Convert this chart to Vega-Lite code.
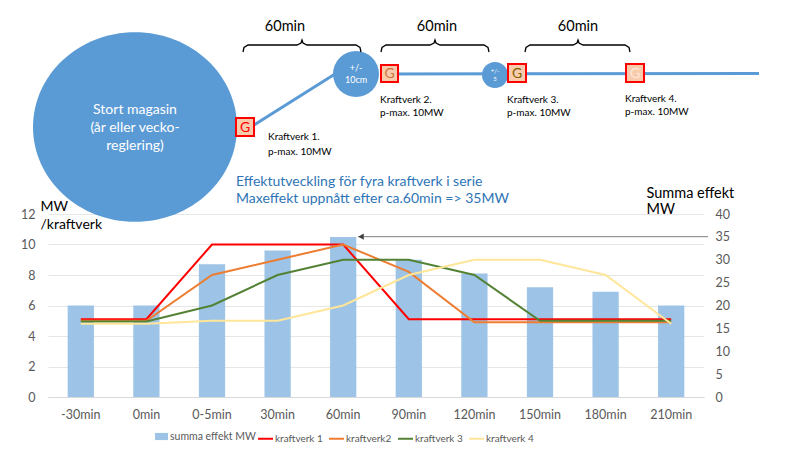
{
  "$schema": "https://vega.github.io/schema/vega-lite/v6.json",
  "width": 656,
  "height": 183,
  "autosize": "none",
  "padding": {"left": 48, "top": 214, "right": 96, "bottom": 53},
  "background": "white",
  "config": {"view": {"stroke": null}, "font": "Lato"},
  "datasets": {
    "bars": [
      {"t": "-30min", "summa": 20},
      {"t": "0min", "summa": 20},
      {"t": "0-5min", "summa": 29},
      {"t": "30min", "summa": 32},
      {"t": "60min", "summa": 35},
      {"t": "90min", "summa": 30},
      {"t": "120min", "summa": 27},
      {"t": "150min", "summa": 24},
      {"t": "180min", "summa": 23},
      {"t": "210min", "summa": 20}
    ],
    "lines": [
      {"t": "-30min", "serie": "kraftverk 1", "mw": 5.1},
      {"t": "0min", "serie": "kraftverk 1", "mw": 5.1},
      {"t": "0-5min", "serie": "kraftverk 1", "mw": 10},
      {"t": "30min", "serie": "kraftverk 1", "mw": 10},
      {"t": "60min", "serie": "kraftverk 1", "mw": 10},
      {"t": "90min", "serie": "kraftverk 1", "mw": 5.1},
      {"t": "120min", "serie": "kraftverk 1", "mw": 5.1},
      {"t": "150min", "serie": "kraftverk 1", "mw": 5.1},
      {"t": "180min", "serie": "kraftverk 1", "mw": 5.1},
      {"t": "210min", "serie": "kraftverk 1", "mw": 5.1},
      {"t": "-30min", "serie": "kraftverk2", "mw": 5.0},
      {"t": "0min", "serie": "kraftverk2", "mw": 5.0},
      {"t": "0-5min", "serie": "kraftverk2", "mw": 8},
      {"t": "30min", "serie": "kraftverk2", "mw": 9},
      {"t": "60min", "serie": "kraftverk2", "mw": 10},
      {"t": "90min", "serie": "kraftverk2", "mw": 8.2},
      {"t": "120min", "serie": "kraftverk2", "mw": 4.9},
      {"t": "150min", "serie": "kraftverk2", "mw": 4.9},
      {"t": "180min", "serie": "kraftverk2", "mw": 4.9},
      {"t": "210min", "serie": "kraftverk2", "mw": 4.9},
      {"t": "-30min", "serie": "kraftverk 3", "mw": 4.95},
      {"t": "0min", "serie": "kraftverk 3", "mw": 4.95},
      {"t": "0-5min", "serie": "kraftverk 3", "mw": 6},
      {"t": "30min", "serie": "kraftverk 3", "mw": 8},
      {"t": "60min", "serie": "kraftverk 3", "mw": 9},
      {"t": "90min", "serie": "kraftverk 3", "mw": 9},
      {"t": "120min", "serie": "kraftverk 3", "mw": 8},
      {"t": "150min", "serie": "kraftverk 3", "mw": 5},
      {"t": "180min", "serie": "kraftverk 3", "mw": 5},
      {"t": "210min", "serie": "kraftverk 3", "mw": 5},
      {"t": "-30min", "serie": "kraftverk 4", "mw": 4.8},
      {"t": "0min", "serie": "kraftverk 4", "mw": 4.8},
      {"t": "0-5min", "serie": "kraftverk 4", "mw": 5},
      {"t": "30min", "serie": "kraftverk 4", "mw": 5},
      {"t": "60min", "serie": "kraftverk 4", "mw": 6},
      {"t": "90min", "serie": "kraftverk 4", "mw": 8},
      {"t": "120min", "serie": "kraftverk 4", "mw": 9},
      {"t": "150min", "serie": "kraftverk 4", "mw": 9},
      {"t": "180min", "serie": "kraftverk 4", "mw": 8},
      {"t": "210min", "serie": "kraftverk 4", "mw": 4.8}
    ],
    "pipes": [
      {"seg": "a", "x": 254, "y": 125},
      {"seg": "a", "x": 335, "y": 74},
      {"seg": "b", "x": 380, "y": 74},
      {"seg": "b", "x": 759, "y": 73.5}
    ],
    "braces": [
      {"b": 1, "x": 243, "y": 52}, {"b": 1, "x": 244, "y": 47.5}, {"b": 1, "x": 248, "y": 45}, {"b": 1, "x": 297, "y": 45}, {"b": 1, "x": 301, "y": 43}, {"b": 1, "x": 302, "y": 40}, {"b": 1, "x": 303, "y": 43}, {"b": 1, "x": 307, "y": 45}, {"b": 1, "x": 356, "y": 45}, {"b": 1, "x": 360, "y": 47.5}, {"b": 1, "x": 361, "y": 52},
      {"b": 2, "x": 381, "y": 52}, {"b": 2, "x": 382, "y": 47.5}, {"b": 2, "x": 386, "y": 45}, {"b": 2, "x": 430, "y": 45}, {"b": 2, "x": 434, "y": 43}, {"b": 2, "x": 435, "y": 40}, {"b": 2, "x": 436, "y": 43}, {"b": 2, "x": 440, "y": 45}, {"b": 2, "x": 484, "y": 45}, {"b": 2, "x": 488, "y": 47.5}, {"b": 2, "x": 489, "y": 52},
      {"b": 3, "x": 525, "y": 52}, {"b": 3, "x": 526, "y": 47.5}, {"b": 3, "x": 530, "y": 45}, {"b": 3, "x": 573, "y": 45}, {"b": 3, "x": 577, "y": 43}, {"b": 3, "x": 578, "y": 40}, {"b": 3, "x": 579, "y": 43}, {"b": 3, "x": 583, "y": 45}, {"b": 3, "x": 625, "y": 45}, {"b": 3, "x": 629, "y": 47.5}, {"b": 3, "x": 630, "y": 52}
    ],
    "gboxes": [
      {"x": 236, "x2": 254, "y": 118, "y2": 136},
      {"x": 381, "x2": 398, "y": 65, "y2": 82},
      {"x": 508, "x2": 526, "y": 64, "y2": 82},
      {"x": 626, "x2": 644, "y": 64, "y2": 82}
    ],
    "plantLabels": [
      {"x": 268, "y": 137, "label": "Kraftverk 1."},
      {"x": 268, "y": 152, "label": "p-max. 10MW"},
      {"x": 380, "y": 100, "label": "Kraftverk 2."},
      {"x": 380, "y": 113, "label": "p-max. 10MW"},
      {"x": 507, "y": 100, "label": "Kraftverk 3."},
      {"x": 507, "y": 113, "label": "p-max. 10MW"},
      {"x": 625, "y": 99, "label": "Kraftverk 4."},
      {"x": 625, "y": 112, "label": "p-max. 10MW"}
    ],
    "durations": [
      {"x": 285, "y": 27, "label": "60min"},
      {"x": 437, "y": 27, "label": "60min"},
      {"x": 578, "y": 27, "label": "60min"}
    ]
  },
  "layer": [
    {
      "layer": [
        {
          "data": {"name": "bars"},
          "mark": {"type": "bar"},
          "encoding": {
            "x": {
              "field": "t", "type": "ordinal",
              "sort": ["-30min", "0min", "0-5min", "30min", "60min", "90min", "120min", "150min", "180min", "210min"],
              "scale": {"paddingInner": 0.6, "paddingOuter": 0.3},
              "axis": {"title": null, "labelAngle": 0, "ticks": false, "domain": true, "domainColor": "#D9D9D9", "grid": false, "labelColor": "#595959", "labelFontSize": 12.5, "labelPadding": 11, "labelFont": "Lato"}
            },
            "y": {
              "field": "summa", "type": "quantitative",
              "scale": {"domain": [0, 40], "nice": false},
              "axis": {"orient": "right", "values": [0, 5, 10, 15, 20, 25, 30, 35, 40], "grid": false, "domain": false, "ticks": false, "labelColor": "#595959", "labelFontSize": 12.5, "labelPadding": 11,
                "title": ["Summa effekt", "MW"], "titleAngle": 0, "titleAlign": "left", "titleBaseline": "top", "titleX": -58, "titleY": -28, "titleFontSize": 14.5, "titleFontWeight": "normal", "titleColor": "#000000", "titleLineHeight": 16, "titleFont": "Lato"}
            },
            "fill": {
              "datum": "summa effekt MW", "type": "nominal",
              "scale": {"range": ["#9DC3E6"]},
              "legend": {"orient": "none", "legendX": 107, "legendY": 216, "title": null, "symbolType": "M-1,-0.55H1V0.55H-1Z", "symbolSize": 169, "symbolStrokeWidth": 0, "labelColor": "#595959", "labelFontSize": 10.5, "labelOffset": 2}
            }
          }
        },
        {
          "data": {"name": "lines"},
          "mark": {"type": "line", "strokeWidth": 2},
          "encoding": {
            "x": {"field": "t", "type": "ordinal", "sort": ["-30min", "0min", "0-5min", "30min", "60min", "90min", "120min", "150min", "180min", "210min"]},
            "y": {
              "field": "mw", "type": "quantitative",
              "scale": {"domain": [0, 12], "nice": false},
              "axis": {"orient": "left", "values": [0, 2, 4, 6, 8, 10, 12], "grid": true, "gridColor": "#E6E6E6", "domain": false, "ticks": false, "labelColor": "#595959", "labelFontSize": 12.5, "labelPadding": 13,
                "title": ["MW", "/kraftverk"], "titleAngle": 0, "titleAlign": "left", "titleBaseline": "top", "titleX": -8, "titleY": -15, "titleFontSize": 14, "titleFontWeight": "normal", "titleColor": "#000000", "titleLineHeight": 18, "titleFont": "Lato"}
            },
            "stroke": {
              "field": "serie", "type": "nominal",
              "scale": {"domain": ["kraftverk 1", "kraftverk2", "kraftverk 3", "kraftverk 4"], "range": ["#FF0000", "#ED7D31", "#548235", "#FFE699"]},
              "legend": {"orient": "none", "legendX": 209, "legendY": 216, "direction": "horizontal", "title": null, "symbolType": "stroke", "symbolSize": 225, "symbolStrokeWidth": 2, "labelColor": "#595959", "labelFontSize": 10, "labelOffset": 1, "columnPadding": 2}
            }
          }
        }
      ],
      "resolve": {"scale": {"y": "independent"}}
    },
    {
      "encoding": {
        "x": {"field": "x", "type": "quantitative", "scale": {"domain": [0, 800], "range": [-48, 752], "nice": false, "zero": false}, "axis": null},
        "y": {"field": "y", "type": "quantitative", "scale": {"domain": [0, 450], "range": [-214, 236], "nice": false, "zero": false}, "axis": null}
      },
      "layer": [
        {
          "data": {"values": [{"x": 358, "y": 236.7}, {"x": 708, "y": 236.7}]},
          "mark": {"type": "line", "color": "#7F7F7F", "strokeWidth": 1}
        },
        {
          "data": {"values": [{"x": 361, "y": 236.7}]},
          "mark": {"type": "point", "shape": "triangle-left", "size": 40, "filled": true, "color": "#404040", "opacity": 1}
        },
        {
          "data": {"name": "pipes"},
          "mark": {"type": "line", "color": "#5B9BD5", "strokeWidth": 3},
          "encoding": {"detail": {"field": "seg"}}
        },
        {
          "data": {"values": [{"x": 135, "y": 127}]},
          "mark": {"type": "point", "shape": "M-1,0A1,0.93,0,1,0,1,0A1,0.93,0,1,0,-1,0Z", "size": 41616, "filled": true, "color": "#5B9BD5", "opacity": 1}
        },
        {
          "data": {"values": [{"x": 356, "y": 74}]},
          "mark": {"type": "point", "shape": "circle", "size": 2116, "filled": true, "color": "#5B9BD5", "opacity": 1}
        },
        {
          "data": {"values": [{"x": 495, "y": 75}]},
          "mark": {"type": "point", "shape": "circle", "size": 676, "filled": true, "color": "#5B9BD5", "opacity": 1}
        },
        {
          "data": {"name": "gboxes"},
          "mark": {"type": "rect", "fill": "#F8CBAD", "stroke": "#FF0000", "strokeWidth": 2},
          "encoding": {"x2": {"field": "x2"}, "y2": {"field": "y2"}}
        },
        {
          "data": {"values": [{"x": 245, "y": 127.5, "label": "G"}]},
          "mark": {"type": "text", "color": "#FF0000", "fontSize": 14, "align": "center", "baseline": "middle", "font": "Lato"},
          "encoding": {"text": {"field": "label"}}
        },
        {
          "data": {"values": [{"x": 389.5, "y": 74, "label": "G"}]},
          "mark": {"type": "text", "color": "#D0733A", "fontSize": 14, "align": "center", "baseline": "middle", "font": "Lato"},
          "encoding": {"text": {"field": "label"}}
        },
        {
          "data": {"values": [{"x": 517, "y": 73.5, "label": "G"}]},
          "mark": {"type": "text", "color": "#7F6000", "fontSize": 14, "align": "center", "baseline": "middle", "font": "Lato"},
          "encoding": {"text": {"field": "label"}}
        },
        {
          "data": {"values": [{"x": 635, "y": 73.5, "label": "G"}]},
          "mark": {"type": "text", "color": "#FCE8DA", "fontSize": 14, "align": "center", "baseline": "middle", "font": "Lato"},
          "encoding": {"text": {"field": "label"}}
        },
        {
          "data": {"values": [{"x": 135, "y": 110, "label": "Stort magasin"}, {"x": 135, "y": 128, "label": "(år eller vecko-"}, {"x": 135, "y": 146, "label": "reglering)"}]},
          "mark": {"type": "text", "color": "#FFFFFF", "fontSize": 14, "align": "center", "baseline": "middle", "font": "Lato"},
          "encoding": {"text": {"field": "label"}}
        },
        {
          "data": {"values": [{"x": 356, "y": 68, "label": "+/-"}, {"x": 356, "y": 80, "label": "10cm"}]},
          "mark": {"type": "text", "color": "#FFFFFF", "fontSize": 9, "align": "center", "baseline": "middle", "font": "Lato"},
          "encoding": {"text": {"field": "label"}}
        },
        {
          "data": {"values": [{"x": 495, "y": 71, "label": "+/-"}, {"x": 495, "y": 79, "label": "5"}]},
          "mark": {"type": "text", "color": "#FFFFFF", "fontSize": 6, "align": "center", "baseline": "middle", "font": "Lato"},
          "encoding": {"text": {"field": "label"}}
        },
        {
          "data": {"name": "plantLabels"},
          "mark": {"type": "text", "color": "#000000", "fontSize": 10, "align": "left", "baseline": "middle", "font": "Lato"},
          "encoding": {"text": {"field": "label"}}
        },
        {
          "data": {"name": "braces"},
          "mark": {"type": "line", "color": "#000000", "strokeWidth": 1.3},
          "encoding": {"detail": {"field": "b"}}
        },
        {
          "data": {"name": "durations"},
          "mark": {"type": "text", "color": "#000000", "fontSize": 14.5, "align": "center", "baseline": "middle", "font": "Lato"},
          "encoding": {"text": {"field": "label"}}
        },
        {
          "data": {"values": [{"x": 236, "y": 182, "label": "Effektutveckling för fyra kraftverk i serie"}, {"x": 236, "y": 199, "label": "Maxeffekt uppnått efter ca.60min => 35MW"}]},
          "mark": {"type": "text", "color": "#2E75B6", "fontSize": 14, "align": "left", "baseline": "middle", "font": "Lato"},
          "encoding": {"text": {"field": "label"}}
        }
      ]
    }
  ],
  "resolve": {"scale": {"x": "independent", "y": "independent"}}
}
